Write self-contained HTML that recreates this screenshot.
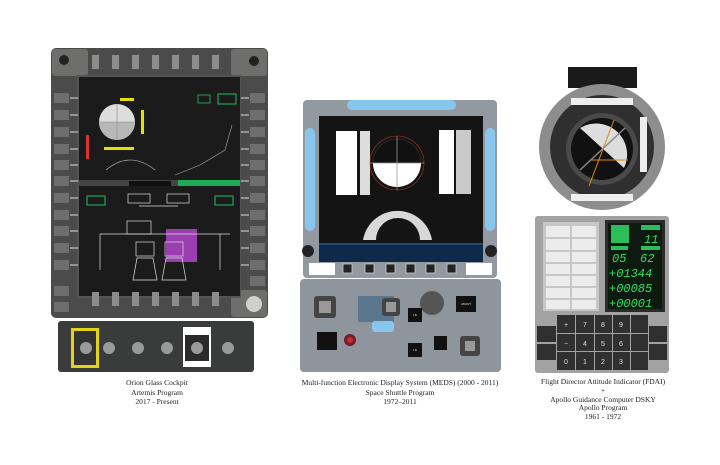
<!DOCTYPE html>
<html><head><meta charset="utf-8"><style>
html,body{margin:0;padding:0;background:#fff;width:720px;height:465px;overflow:hidden}
.cap{position:absolute;font-family:"Liberation Serif",serif;font-size:7.5px;color:#222;text-align:center;line-height:9.6px}
</style></head><body>
<svg width="720" height="465" style="position:absolute;left:0;top:0" font-family="Liberation Sans, sans-serif">
<!-- ORION -->
<rect x="51" y="48" width="217" height="270" rx="5" fill="#4a4b4a"/>
<rect x="52" y="49" width="36" height="27" rx="3" fill="#6e6f6c"/>
<rect x="231" y="49" width="36" height="27" rx="3" fill="#6e6f6c"/>
<rect x="231" y="290" width="36" height="27" rx="3" fill="#6e6f6c"/>
<circle cx="64" cy="60" r="5" fill="#222"/><circle cx="254" cy="61" r="5" fill="#222"/>
<circle cx="254" cy="304" r="8" fill="#cfd0cd"/>
<rect x="77" y="75" width="164" height="223" fill="#555"/>
<rect x="79" y="77" width="161" height="219" fill="#1b1b1b"/>
<g fill="#8c8d8a">
<rect x="92" y="55" width="7" height="14"/><rect x="112" y="55" width="7" height="14"/><rect x="132" y="55" width="7" height="14"/><rect x="152" y="55" width="7" height="14"/><rect x="172" y="55" width="7" height="14"/><rect x="192" y="55" width="7" height="14"/><rect x="212" y="55" width="7" height="14"/>
<rect x="92" y="292" width="7" height="14"/><rect x="112" y="292" width="7" height="14"/><rect x="132" y="292" width="7" height="14"/><rect x="152" y="292" width="7" height="14"/><rect x="172" y="292" width="7" height="14"/><rect x="192" y="292" width="7" height="14"/><rect x="212" y="292" width="7" height="14"/>
</g>
<g fill="#6e6f6c">
<rect x="54" y="93" width="15" height="10"/><rect x="54" y="110" width="15" height="10"/><rect x="54" y="127" width="15" height="10"/><rect x="54" y="144" width="15" height="10"/><rect x="54" y="160" width="15" height="10"/><rect x="54" y="176" width="15" height="10"/><rect x="54" y="193" width="15" height="10"/><rect x="54" y="210" width="15" height="10"/><rect x="54" y="226" width="15" height="10"/><rect x="54" y="243" width="15" height="10"/><rect x="54" y="260" width="15" height="10"/><rect x="54" y="286" width="15" height="10"/><rect x="54" y="302" width="15" height="10"/>
<rect x="250" y="93" width="15" height="10"/><rect x="250" y="110" width="15" height="10"/><rect x="250" y="127" width="15" height="10"/><rect x="250" y="144" width="15" height="10"/><rect x="250" y="160" width="15" height="10"/><rect x="250" y="176" width="15" height="10"/><rect x="250" y="193" width="15" height="10"/><rect x="250" y="210" width="15" height="10"/><rect x="250" y="226" width="15" height="10"/><rect x="250" y="243" width="15" height="10"/><rect x="250" y="260" width="15" height="10"/><rect x="250" y="276" width="15" height="10"/>
</g>
<g stroke="#ddd" stroke-width="1">
<path d="M70 98h8M70 115h8M70 132h8M70 149h8M70 165h8M70 181h8M70 198h8M70 215h8M70 231h8M70 248h8M70 265h8"/>
<path d="M241 98h8M241 115h8M241 132h8M241 149h8M241 165h8M241 181h8M241 198h8M241 215h8M241 231h8M241 248h8M241 265h8"/>
</g>
<!-- screen content -->
<circle cx="117" cy="122" r="18" fill="#ddd"/><path d="M99 122 A18 18 0 0 0 135 122Z" fill="#b8b8b8"/>
<path d="M117 104V140M99 122H135" stroke="#888" stroke-width="0.6"/>
<rect x="120" y="98" width="14" height="3" fill="#e8e000"/><rect x="141" y="110" width="3" height="24" fill="#e8e000"/><rect x="104" y="147" width="30" height="3" fill="#e8e000"/>
<rect x="86" y="135" width="3" height="24" fill="#d33"/>
<rect x="198" y="95" width="12" height="8" fill="none" stroke="#2b6" stroke-width="0.8"/>
<rect x="218" y="94" width="18" height="10" fill="none" stroke="#2b6"/>
<path d="M106 170 Q130 150 155 170" fill="none" stroke="#ccc" stroke-width="0.6"/>
<path d="M175 175 L200 165 L225 150 L232 125" fill="none" stroke="#aaa" stroke-width="0.6"/>
<rect x="79" y="180" width="161" height="6" fill="#444"/><rect x="178" y="180" width="62" height="6" fill="#1faa55"/>
<rect x="129" y="181" width="42" height="5" fill="#111"/>
<rect x="166" y="229" width="31" height="33" fill="#9b3fb0"/>
<g fill="none" stroke="#ddd" stroke-width="0.7">
<rect x="127" y="221" width="24" height="13"/><rect x="128" y="194" width="22" height="9"/><rect x="167" y="194" width="22" height="9"/>
<rect x="136" y="242" width="18" height="14"/><rect x="165" y="242" width="18" height="14"/>
<path d="M137 258 L133 280 L157 280 L153 258Z"/><path d="M166 258 L162 280 L186 280 L182 258Z"/>
<path d="M100 234 L230 234 M139 206 L178 206 M100 234 V270 M220 234 V270"/>
</g>
<rect x="87" y="196" width="18" height="9" fill="none" stroke="#2b6"/><rect x="215" y="196" width="18" height="9" fill="none" stroke="#2b6"/>
<!-- orion bottom strip -->
<rect x="58" y="321" width="196" height="51" rx="3" fill="#3a3b3b"/>
<rect x="71" y="328" width="28" height="40" fill="#e2d31a"/><rect x="74" y="331" width="22" height="34" fill="#333"/>
<rect x="183" y="327" width="28" height="40" fill="#fff"/><rect x="185" y="335" width="24" height="26" fill="#2a2a2a"/>
<g fill="#9a9b98"><circle cx="86" cy="348" r="6"/><circle cx="109" cy="348" r="6"/><circle cx="138" cy="348" r="6"/><circle cx="167" cy="348" r="6"/><circle cx="197" cy="348" r="6"/><circle cx="228" cy="348" r="6"/></g>
<!-- MEDS -->
<rect x="303" y="100" width="194" height="178" rx="4" fill="#9399a0"/>
<rect x="347" y="100" width="109" height="10" rx="5" fill="#87c7ee"/>
<rect x="305" y="128" width="10" height="103" rx="5" fill="#87c7ee"/><rect x="485" y="128" width="10" height="103" rx="5" fill="#87c7ee"/>
<rect x="319" y="116" width="164" height="146" fill="#141414"/>
<rect x="336" y="131" width="21" height="64" fill="#fff"/><rect x="360" y="131" width="10" height="64" fill="#ddd"/>
<rect x="439" y="130" width="15" height="64" fill="#fff"/><rect x="456" y="130" width="15" height="64" fill="#c9c9c9"/>
<circle cx="397" cy="163" r="27" fill="none" stroke="#b33" stroke-width="0.6"/>
<circle cx="397" cy="163" r="24" fill="#fff"/><path d="M373 163 A24 24 0 0 1 421 163Z" fill="#111"/>
<path d="M397 136V190M370 163H424" stroke="#999" stroke-width="0.8"/>
<path d="M363 240 A35 35 0 0 1 432 240 L420 240 A22 22 0 0 0 376 240Z" fill="#d8d8d8"/>
<line x1="319" y1="244" x2="483" y2="244" stroke="#2a7fd0"/>
<rect x="319" y="245" width="164" height="17" fill="#0d2a4a"/>
<rect x="305" y="262" width="190" height="15" fill="#9399a0"/>
<rect x="309" y="263" width="26" height="12" fill="#fff"/><rect x="466" y="263" width="26" height="12" fill="#fff"/>
<g fill="#222" stroke="#ccc" stroke-width="0.8"><rect x="343" y="264" width="9" height="9"/><rect x="365" y="264" width="9" height="9"/><rect x="386" y="264" width="9" height="9"/><rect x="406" y="264" width="9" height="9"/><rect x="426" y="264" width="9" height="9"/><rect x="447" y="264" width="9" height="9"/></g>
<circle cx="308" cy="251" r="6" fill="#222"/><circle cx="491" cy="251" r="6" fill="#222"/>
<rect x="300" y="279" width="201" height="93" rx="4" fill="#8e959c"/>
<rect x="358" y="296" width="36" height="26" fill="#5b7790"/>
<rect x="314" y="296" width="22" height="22" rx="3" fill="#444"/><rect x="382" y="298" width="18" height="18" rx="3" fill="#444"/>
<rect x="319" y="301" width="12" height="12" fill="#999"/><rect x="386" y="302" width="10" height="10" fill="#999"/>
<rect x="372" y="321" width="22" height="11" rx="3" fill="#87c7ee"/>
<circle cx="432" cy="303" r="12" fill="#555"/>
<rect x="456" y="296" width="20" height="16" fill="#111"/><rect x="317" y="332" width="20" height="18" fill="#111"/>
<circle cx="350" cy="340" r="6" fill="#7a1a2a"/><circle cx="350" cy="340" r="3" fill="#b33"/>
<rect x="408" y="308" width="14" height="14" fill="#111"/><rect x="408" y="343" width="14" height="14" fill="#111"/><rect x="434" y="336" width="13" height="14" fill="#111"/>
<rect x="460" y="336" width="20" height="20" rx="3" fill="#444"/><rect x="465" y="341" width="10" height="10" fill="#999"/>
<g font-size="3" fill="#ddd" text-anchor="middle"><text x="466" y="305">ABORT</text><text x="415" y="316">LB</text><text x="415" y="351">LB</text></g>
<!-- FDAI -->
<rect x="568" y="67" width="69" height="21" fill="#1a1a1a"/>
<circle cx="602" cy="147" r="63" fill="#8d8d8d"/>
<circle cx="602" cy="147" r="52" fill="#2f2f2f"/>
<circle cx="602" cy="149" r="36" fill="#4a4a4a"/><circle cx="602" cy="149" r="31" fill="#111"/>
<path d="M580 128 L624 168 A31 31 0 0 0 580 128Z" fill="#ddd"/>
<line x1="614" y1="120" x2="589" y2="186" stroke="#e08a10"/><line x1="590" y1="160" x2="628" y2="160" stroke="#e08a10"/>
<line x1="580" y1="170" x2="625" y2="128" stroke="#888" stroke-width="1.5"/>
<rect x="571" y="98" width="62" height="7" fill="#eee"/><rect x="571" y="194" width="62" height="7" fill="#eee"/><rect x="640" y="117" width="7" height="55" fill="#eee"/>
<!-- DSKY -->
<rect x="535" y="216" width="134" height="157" rx="3" fill="#a2a2a2"/>
<rect x="543" y="222" width="56" height="89" fill="#c7c7c7"/>
<g fill="#ececec"><rect x="546" y="226" width="24" height="11"/><rect x="572" y="226" width="24" height="11"/><rect x="546" y="239" width="24" height="11"/><rect x="572" y="239" width="24" height="11"/><rect x="546" y="252" width="24" height="10"/><rect x="572" y="252" width="24" height="10"/><rect x="546" y="264" width="24" height="10"/><rect x="572" y="264" width="24" height="10"/><rect x="546" y="276" width="24" height="10"/><rect x="572" y="276" width="24" height="10"/><rect x="546" y="288" width="24" height="10"/><rect x="572" y="288" width="24" height="10"/><rect x="546" y="300" width="24" height="9"/><rect x="572" y="300" width="24" height="9"/></g>
<rect x="605" y="220" width="60" height="92" fill="#2a2a2a"/>
<rect x="608" y="223" width="54" height="86" fill="#0d1a10"/>
<rect x="611" y="225" width="18" height="18" fill="#2dbd5a"/>
<rect x="641" y="225" width="19" height="5" fill="#2dbd5a"/><rect x="611" y="246" width="17" height="4" fill="#2dbd5a"/><rect x="641" y="246" width="19" height="4" fill="#2dbd5a"/>
<g font-size="12" fill="#2ee060" font-family="Liberation Mono, monospace" font-style="italic">
<text x="644" y="243">11</text><text x="612" y="262">05</text><text x="640" y="262">62</text>
<text x="609" y="277">+01344</text><text x="609" y="292">+00085</text><text x="609" y="307">+00001</text></g>
<g fill="#303030"><rect x="557" y="315" width="18" height="18"/><rect x="576" y="315" width="18" height="18"/><rect x="595" y="315" width="17" height="18"/><rect x="613" y="315" width="17" height="18"/><rect x="631" y="315" width="17" height="18"/>
<rect x="557" y="334" width="18" height="17"/><rect x="576" y="334" width="18" height="17"/><rect x="595" y="334" width="17" height="17"/><rect x="613" y="334" width="17" height="17"/><rect x="631" y="334" width="17" height="17"/>
<rect x="557" y="352" width="18" height="18"/><rect x="576" y="352" width="18" height="18"/><rect x="595" y="352" width="17" height="18"/><rect x="613" y="352" width="17" height="18"/><rect x="631" y="352" width="17" height="18"/>
<rect x="537" y="326" width="19" height="16"/><rect x="537" y="344" width="19" height="16"/><rect x="649" y="326" width="18" height="16"/><rect x="649" y="344" width="18" height="16"/></g>
<g font-size="7" fill="#ddd" text-anchor="middle"><text x="566" y="327">+</text><text x="585" y="327">7</text><text x="603" y="327">8</text><text x="621" y="327">9</text>
<text x="566" y="346">−</text><text x="585" y="346">4</text><text x="603" y="346">5</text><text x="621" y="346">6</text>
<text x="566" y="364">0</text><text x="585" y="364">1</text><text x="603" y="364">2</text><text x="621" y="364">3</text></g>
</svg>
<div class="cap" style="left:57px;top:378px;width:200px">Orion Glass Cockpit<br>Artemis Program<br>2017 - Present</div>
<div class="cap" style="left:280px;top:378px;width:240px">Multi-function Electronic Display System (MEDS) (2000 - 2011)<br>Space Shuttle Program<br>1972–2011</div>
<div class="cap" style="left:523px;top:378px;width:160px;line-height:8.8px">Flight Director Attitude Indicator (FDAI)<br>+<br>Apollo Guidance Computer DSKY<br>Apollo Program<br>1961 - 1972</div>
</body></html>
